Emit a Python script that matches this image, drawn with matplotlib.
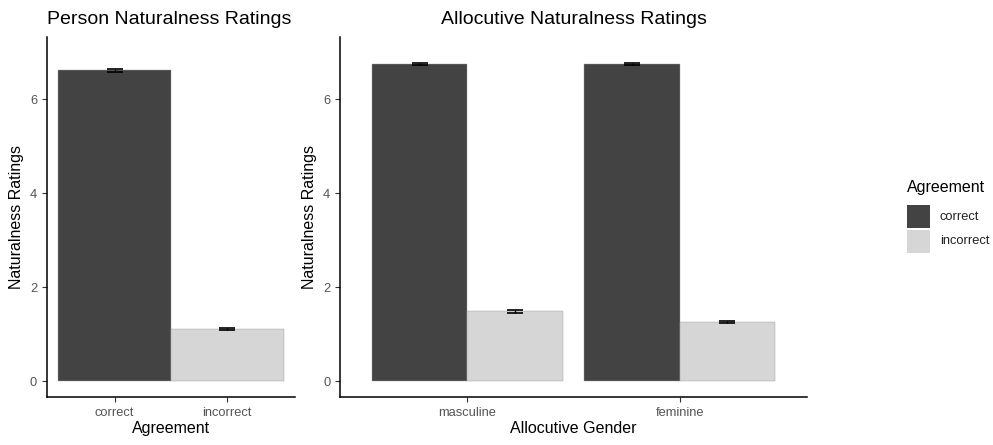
import numpy as np
import matplotlib
matplotlib.use('Agg')
from matplotlib import pyplot as plt
from matplotlib.patches import Rectangle

# Данные
agreement = ['correct', 'incorrect']
person_means = [6.61, 1.11]
person_se = [0.03, 0.02]

genders = ['masculine', 'feminine']
alloc_correct = [6.75, 6.75]
alloc_correct_se = [0.02, 0.02]
alloc_incorrect = [1.48, 1.26]
alloc_incorrect_se = [0.03, 0.02]

dark = '#434343'
light = '#d6d6d6'
tick_col = '#555555'

plt.rcParams['font.family'] = ['Liberation Sans', 'DejaVu Sans']

fig = plt.figure(figsize=(9.93, 4.45), dpi=100)
ax1 = fig.add_axes([0.0473, 0.1079, 0.2497, 0.809])
ax2 = fig.add_axes([0.3424, 0.1079, 0.4703, 0.809])


def style(ax):
    ax.spines['top'].set_visible(False)
    ax.spines['right'].set_visible(False)
    for s in ['left', 'bottom']:
        ax.spines[s].set_linewidth(1.1)
        ax.spines[s].set_color('black')
    ax.tick_params(colors='#333333', labelcolor=tick_col, labelsize=9.3, length=3.5, width=0.8)
    ax.set_ylim(-0.34, 7.32)
    ax.set_xlim(0.4, 2.6)
    ax.set_yticks([0, 2, 4, 6])
    ax.set_ylabel('Naturalness Ratings', fontsize=11.5, labelpad=4)


# Левый график
x1 = np.arange(1, len(agreement) + 1)
ax1.bar(x1, person_means, width=1.0, color=[dark, light], edgecolor='#9a9a9a', linewidth=0.3)
ax1.errorbar(x1, person_means, yerr=person_se, fmt='none', ecolor='black',
             elinewidth=1, capsize=5.5, capthick=1.2)
style(ax1)
ax1.set_xticks(x1)
ax1.set_xticklabels(agreement)
ax1.set_xlabel('Agreement', fontsize=11.5, labelpad=2)
ax1.set_title('Person Naturalness Ratings', fontsize=14, loc='left', pad=9)

# Правый график
x2 = np.arange(1, len(genders) + 1)
w = 0.45
ax2.bar(x2 - w / 2, alloc_correct, width=w, color=dark, edgecolor='#9a9a9a', linewidth=0.3)
ax2.bar(x2 + w / 2, alloc_incorrect, width=w, color=light, edgecolor='#9a9a9a', linewidth=0.3)
ax2.errorbar(x2 - w / 2, alloc_correct, yerr=alloc_correct_se, fmt='none', ecolor='black',
             elinewidth=1, capsize=6, capthick=1.2)
ax2.errorbar(x2 + w / 2, alloc_incorrect, yerr=alloc_incorrect_se, fmt='none', ecolor='black',
             elinewidth=1, capsize=6, capthick=1.2)
style(ax2)
ax2.set_xticks(x2)
ax2.set_xticklabels(genders)
ax2.set_xlabel('Allocutive Gender', fontsize=11.5, labelpad=2)
ax2.set_title('Allocutive Naturalness Ratings', fontsize=14, pad=9)

# Легенда (вручную, как в ggplot)
fig.text(0.9134, 0.578, 'Agreement', fontsize=11.5, va='center', ha='left')
key_w, key_h = 0.0232, 0.0517
for i, (lab, col) in enumerate(zip(agreement, [dark, light])):
    y0 = 0.4876 - i * 0.0561
    fig.patches.append(Rectangle((0.9134, y0), key_w, key_h, transform=fig.transFigure,
                                 facecolor=col, edgecolor='none'))
    fig.text(0.9466, y0 + key_h / 2, lab, fontsize=9.3, va='center', ha='left', color='#222222')

plt.savefig('out.png', dpi=100)
